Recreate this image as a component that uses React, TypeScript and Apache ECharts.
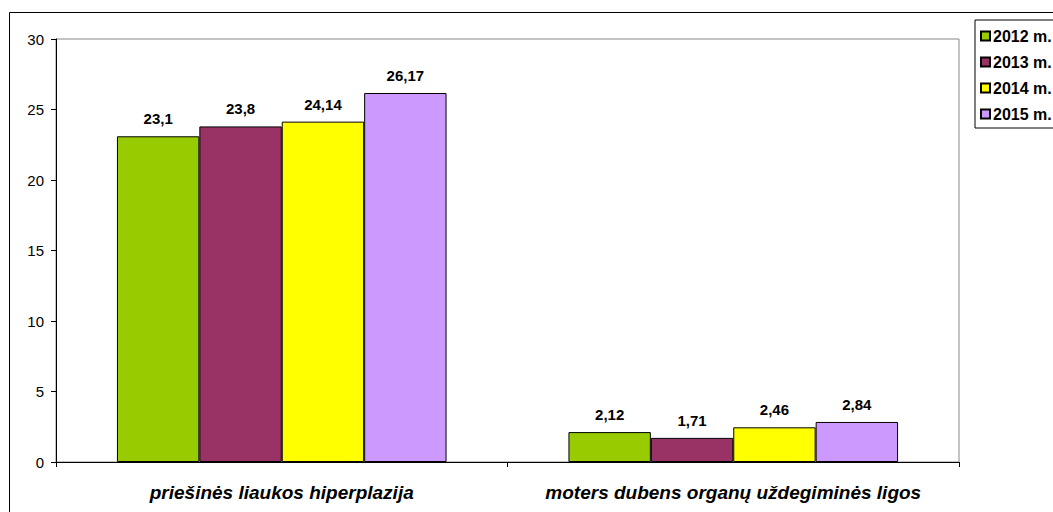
import React, { useEffect, useRef } from "react";
import * as echarts from "echarts";

const categories = ["priešinės liaukos hiperplazija", "moters dubens organų uždegiminės ligos"];
const seriesNames = ["2012 m.", "2013 m.", "2014 m.", "2015 m."];
const values2012 = [23.1, 2.12];
const values2013 = [23.8, 1.71];
const values2014 = [24.14, 2.46];
const values2015 = [26.17, 2.84];
const colors = ["#99CC00", "#993366", "#FFFF00", "#CC99FF"];
const yTicks = { min: 0, max: 30, interval: 5 };

const FONT = "Liberation Sans, Arial, sans-serif";

export default function App() {
  const ref = useRef<HTMLDivElement>(null);
  useEffect(() => {
    if (!ref.current) return;
    const chart = echarts.init(ref.current, null, { renderer: "svg" });
    const allValues = [values2012, values2013, values2014, values2015];
    chart.setOption({
      animation: false,
      backgroundColor: "#ffffff",
      textStyle: { fontFamily: FONT },
      graphic: [
        {
          type: "rect",
          shape: { x: 9.5, y: 12.5, width: 1200, height: 700 },
          style: { fill: "none", stroke: "#000000", lineWidth: 1 },
          z: 0,
        },
      ],
      grid: {
        left: 56,
        top: 39,
        width: 903,
        height: 423,
        show: true,
        borderColor: "#888888",
        borderWidth: 1,
        backgroundColor: "transparent",
      },
      legend: {
        orient: "vertical",
        left: 975,
        top: 20,
        itemWidth: 9,
        itemHeight: 9,
        itemGap: 10,
        padding: [8, 20, 6, 5],
        backgroundColor: "#ffffff",
        borderColor: "#000000",
        borderWidth: 1,
        icon: "rect",
        textStyle: { fontWeight: "bold", fontSize: 16, color: "#000", fontFamily: FONT, padding: [0, 0, 0, -2] },
        data: seriesNames,
      },
      xAxis: {
        type: "category",
        data: categories,
        axisLine: { lineStyle: { color: "#000", width: 1 } },
        axisTick: { show: true, alignWithLabel: false, length: 5, lineStyle: { color: "#000" } },
        axisLabel: {
          interval: 0,
          hideOverlap: false,
          margin: 21,
          fontSize: 19,
          fontWeight: "bold",
          fontStyle: "italic",
          color: "#000",
          fontFamily: FONT,
        },
      },
      yAxis: {
        type: "value",
        min: yTicks.min,
        max: yTicks.max,
        interval: yTicks.interval,
        axisLine: { show: true, lineStyle: { color: "#000", width: 1 } },
        axisTick: { show: true, length: 5, lineStyle: { color: "#000" } },
        splitLine: { show: false },
        axisLabel: { fontSize: 15, color: "#000", margin: 12, fontFamily: FONT },
      },
      series: seriesNames.map((name, i) => ({
        name,
        type: "bar",
        data: allValues[i],
        barGap: "0%",
        barCategoryGap: "27%",
        itemStyle: { color: colors[i], borderColor: "#000", borderWidth: 1 },
        label: {
          show: true,
          position: "top",
          distance: 10,
          fontSize: 15,
          fontWeight: "bold",
          color: "#000",
          fontFamily: FONT,
          formatter: (p: any) => String(p.value).replace(".", ","),
        },
      })),
    });
    return () => chart.dispose();
  }, []);
  return (
    <div
      ref={ref}
      style={{ position: "fixed", left: 0, top: 0, width: 1053, height: 512 }}
    />
  );
}
